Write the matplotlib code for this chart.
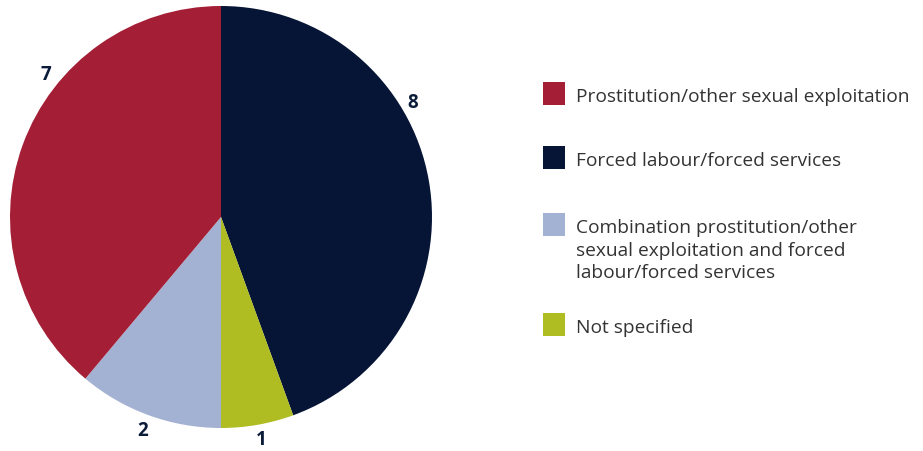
import matplotlib
matplotlib.use("Agg")
import matplotlib.pyplot as plt
from matplotlib.patches import Rectangle

# Data
categories = ["Forced labour/forced services",
              "Not specified",
              "Combination prostitution/other\nsexual exploitation and forced\nlabour/forced services",
              "Prostitution/other sexual exploitation"]
counts = [8, 1, 2, 7]
colors = ["#061535", "#AFBD22", "#A3B1D3", "#A41F35"]

# legend order as shown in the picture
legend_order = [3, 0, 2, 1]

# label positions in pie-radius units (labels sit outside the wedges)
label_pos = [(0.91, 0.545), (0.19, -1.05), (-0.37, -1.01), (-0.83, 0.68)]

plt.rcParams['font.family'] = ['Open Sans', 'DejaVu Sans']

W, H = 923, 452
fig = plt.figure(figsize=(W / 100, H / 100), dpi=100)

# pie: centre (221, 218) px, radius 211 px
cx, cy, r = 221, 218, 211
ax = fig.add_axes([(cx - r) / W, (H - cy - r) / H, 2 * r / W, 2 * r / H])
ax.pie(counts, colors=colors, startangle=90, counterclock=False,
       wedgeprops=dict(linewidth=0))
ax.set_xlim(-1, 1)
ax.set_ylim(-1, 1)
ax.set_aspect('equal')
ax.axis('off')

for (lx, ly), n in zip(label_pos, counts):
    ax.text(lx, ly, str(n), ha='center', va='center', fontsize=13.5,
            fontweight='bold', color="#0B1B3A", clip_on=False)

# legend drawn by hand, one text per line
row_y = [94.5, 158.5, 225.5, 325.5]
for yc, i in zip(row_y, legend_order):
    fig.patches.append(Rectangle((543 / W, (H - yc - 11.5) / H), 22 / W, 23 / H,
                                 transform=fig.transFigure, facecolor=colors[i],
                                 edgecolor='none'))
    for k, line in enumerate(categories[i].split("\n")):
        fig.text(576 / W, (H - yc - 7.5 - 22.5 * k) / H, line, ha='left',
                 va='baseline', fontsize=13.8, color="#333333")

fig.savefig("out.png", dpi=100)
